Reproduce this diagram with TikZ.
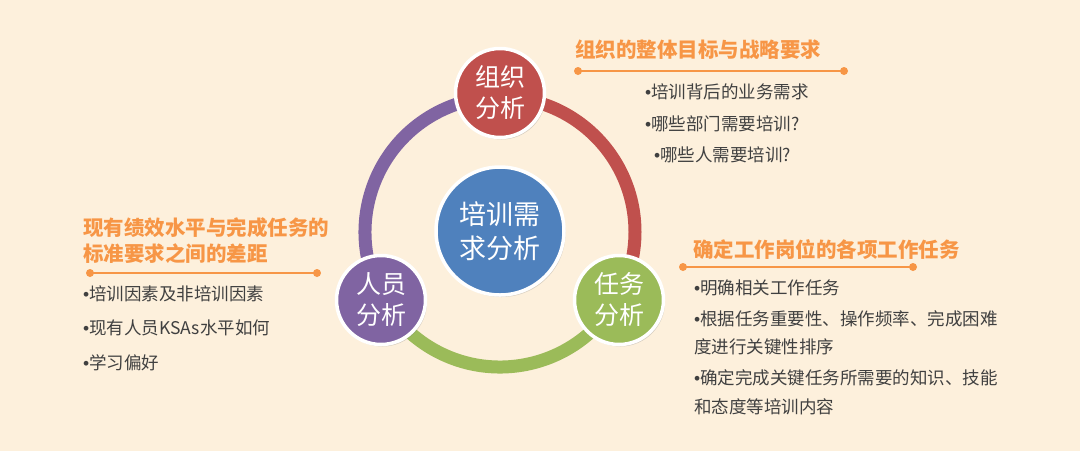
\documentclass[tikz,border=0pt]{standalone}
\usepackage{fontspec}
\setmainfont{Noto Sans CJK SC}
\newfontfamily\latinf{Liberation Sans}
\newcommand{\bt}{{\latinf •}}
\usetikzlibrary{shadows}
\definecolor{bg}{HTML}{FDF0DC}
\definecolor{ored}{HTML}{C0504D}
\definecolor{ogreen}{HTML}{9BBB59}
\definecolor{opurple}{HTML}{8064A2}
\definecolor{oblue}{HTML}{4F81BD}
\definecolor{orng}{HTML}{F79646}
\definecolor{txt}{HTML}{404040}
\tikzset{
 ball/.style={circle, draw=white, line width=3.5pt, minimum size=89pt, inner sep=0pt, text=white,
   font=\fontsize{25}{31}\selectfont, align=center,
   drop shadow={opacity=0.3, shadow xshift=1.5pt, shadow yshift=-2pt}},
 bigball/.style={ball, minimum size=128pt, font=\fontsize{27}{34}\selectfont},
 ttl/.style={anchor=west, inner sep=0pt, text=orng, font=\fontsize{20.5}{27}\selectfont\bfseries, align=left},
 bul/.style={anchor=west, inner sep=0pt, text=txt, font=\fontsize{17.5}{22}\selectfont},
 rule/.style={orng, line width=2.5pt},
 rdot/.style={circle, fill=orng, minimum size=8pt, inner sep=0pt},
 arcline/.style={line width=13pt},
}
\begin{document}
\begin{tikzpicture}[x=1pt,y=-1pt]
\fill[bg] (0,0) rectangle (1080,451);
\useasboundingbox (0,0) rectangle (1080,451);
% ring
\coordinate (c) at (500,232);
\draw[ored, arcline] (c) ++(-90:135) arc[start angle=-90, end angle=30, radius=135];
\draw[ogreen, arcline] (c) ++(30:135) arc[start angle=30, end angle=150, radius=135];
\draw[opurple, arcline] (c) ++(150:135) arc[start angle=150, end angle=270, radius=135];
% circles
\node[bigball, fill=oblue] (ctr) at (500,231) {培训需\\求分析};
\node[ball, fill=ored] (org) at (500,93) {组织\\分析};
\node[ball, fill=opurple] (per) at (381,300) {人员\\分析};
\node[ball, fill=ogreen] (task) at (619,300) {任务\\分析};
% top right block
\node[ttl] (t1) at (575,50) {组织的整体目标与战略要求};
\node[rdot] (t1a) at (578,71) {};
\node[rdot] (t1b) at (844,71) {};
\draw[rule] (t1a.center) -- (t1b.center);
\node[bul] (b11) at (645,92) {\bt 培训背后的业务需求};
\node[bul] (b12) at (645,124) {\bt 哪些部门需要培训?};
\node[bul] (b13) at (654,155) {\bt 哪些人需要培训?};
% left block
\node[ttl] (t2) at (83,228) {现有绩效水平与完成任务的};
\node[ttl] (t2b) at (83,254) {标准要求之间的差距};
\node[rdot] (t2a) at (90,273) {};
\node[rdot] (t2c) at (317,273) {};
\draw[rule] (t2a.center) -- (t2c.center);
\node[bul] (b21) at (83,294) {\bt 培训因素及非培训因素};
\node[bul] (b22) at (83,328) {\bt 现有人员KSAs水平如何};
\node[bul] (b23) at (83,363) {\bt 学习偏好};
% right bottom block
\node[ttl] (t3) at (693,250) {确定工作岗位的各项工作任务};
\node[rdot] (t3a) at (683,267) {};
\node[rdot] (t3b) at (913,267) {};
\draw[rule] (t3a.center) -- (t3b.center);
\node[bul] (b31) at (694,288) {\bt 明确相关工作任务};
\node[bul] (b32) at (694,319) {\bt 根据任务重要性、操作频率、完成困难};
\node[bul] (b32b) at (694,347) {度进行关键性排序};
\node[bul] (b33) at (694,378) {\bt 确定完成关键任务所需要的知识、技能};
\node[bul] (b33b) at (694,407) {和态度等培训内容};
\end{tikzpicture}
\end{document}
